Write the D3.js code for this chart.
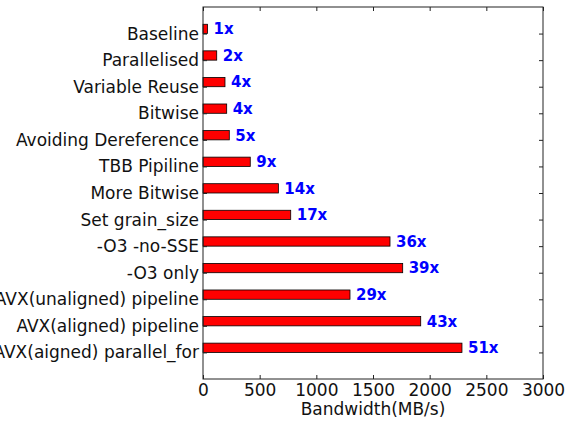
<!DOCTYPE html>
<html>
<head>
<meta charset="utf-8">
<script src="https://cdn.jsdelivr.net/npm/d3@7"></script>
<style>
  body { margin: 0; background: #fff; }
  svg { display: block; font-family: "DejaVu Sans", sans-serif; }
</style>
</head>
<body>
<div id="chart"></div>
<script>
const categories = ["Baseline", "Parallelised", "Variable Reuse", "Bitwise", "Avoiding Dereference",
  "TBB Pipiline", "More Bitwise", "Set grain_size", "-O3 -no-SSE", "-O3 only",
  "AVX(unaligned) pipeline", "AVX(aligned) pipeline", "AVX(aigned) parallel_for"];
const bandwidth = [40, 121, 194, 209, 232, 417, 665, 774, 1650, 1762, 1297, 1921, 2285];
const speedup = ["1x", "2x", "4x", "4x", "5x", "9x", "14x", "17x", "36x", "39x", "29x", "43x", "51x"];
const xTicks = [0, 500, 1000, 1500, 2000, 2500, 3000];

const width = 574, height = 422,
  margin = ({top: 7, right: 31, bottom: 43, left: 203});

const x = d3.scaleLinear()
  .domain([0, 3000])
  .range([margin.left, width - margin.right]);

// category i sits at y(i); bars run from i-0.35 up to i
const y = d3.scaleLinear()
  .domain([-1, 13])
  .range([margin.top, height - margin.bottom]);

const svg = d3.select("#chart")
  .append("svg")
  .attr("width", width)
  .attr("height", height);

const idx = d3.range(categories.length);

svg.append("g")
  .selectAll("rect")
  .data(idx)
  .join("rect")
    .attr("x", x(0))
    .attr("y", i => y(i - 0.35))
    .attr("width", i => x(bandwidth[i]) - x(0))
    .attr("height", i => y(i) - y(i - 0.35))
    .attr("fill", "#ff0000")
    .attr("stroke", "#000")
    .attr("stroke-width", 0.8);

svg.append("g")
  .selectAll("text")
  .data(idx)
  .join("text")
    .attr("x", i => x(bandwidth[i]) + 6)
    .attr("y", i => y(i - 0.175))
    .attr("dy", "0.36em")
    .attr("fill", "#0000ff")
    .attr("font-weight", "bold")
    .attr("font-size", 15)
    .text(i => speedup[i]);

const axisStyle = g => g
  .call(g => g.select(".domain").remove())
  .call(g => g.selectAll(".tick line").attr("stroke", "#222"))
  .call(g => g.selectAll(".tick text")
    .attr("fill", "#111")
    .attr("font-size", 17)
    .attr("font-family", "DejaVu Sans, sans-serif"));

svg.append("g")
  .attr("transform", `translate(0,${height - margin.bottom})`)
  .call(d3.axisBottom(x).tickValues(xTicks).tickFormat(d3.format("d"))
    .tickSize(-4).tickPadding(5))
  .call(axisStyle);

svg.append("g")
  .attr("transform", `translate(0,${margin.top})`)
  .call(d3.axisTop(x).tickValues(xTicks).tickSize(-4).tickFormat(""))
  .call(axisStyle);

svg.append("g")
  .attr("transform", `translate(${margin.left},0)`)
  .call(d3.axisLeft(y).tickValues(idx).tickFormat(i => categories[i])
    .tickSize(-4).tickPadding(4))
  .call(axisStyle);

svg.append("g")
  .attr("transform", `translate(${width - margin.right},0)`)
  .call(d3.axisRight(y).tickValues(idx).tickSize(-4).tickFormat(""))
  .call(axisStyle);

svg.append("rect")
  .attr("x", margin.left)
  .attr("y", margin.top)
  .attr("width", width - margin.left - margin.right)
  .attr("height", height - margin.top - margin.bottom)
  .attr("fill", "none")
  .attr("stroke", "#222")
  .attr("stroke-width", 1);

svg.append("text")
  .attr("x", (x(0) + x(3000)) / 2)
  .attr("y", 415)
  .attr("text-anchor", "middle")
  .attr("font-size", 17)
  .attr("fill", "#111")
  .text("Bandwidth(MB/s)");
</script>
</body>
</html>
